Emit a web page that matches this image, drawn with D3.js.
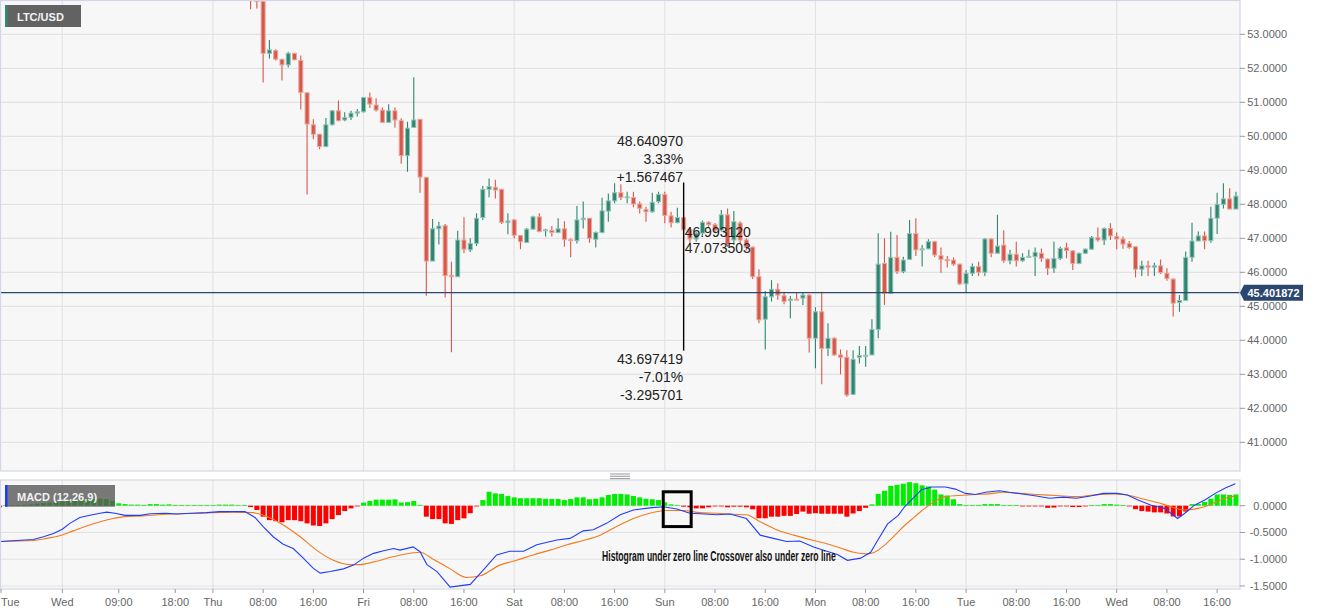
<!DOCTYPE html>
<html><head><meta charset="utf-8">
<script src="https://cdn.jsdelivr.net/npm/d3@7"></script>
<style>
html,body{margin:0;padding:0;background:#fff;}
svg{display:block;font-family:"Liberation Sans",Arial,sans-serif;}
</style></head><body>
<svg id="chart" width="1331" height="615"></svg>
<script>
// ---------------- DATA ----------------
const symbol = "LTC/USD";
const macdTitle = "MACD (12,26,9)";
const baseTime = Date.UTC(2019, 10, 20, 0, 0); // Wed 00:00
const candleFirstHour = 30; // Thu 06:00, hourly candles
const opens = [54.60,54.20,53.97,52.44,52.52,52.26,52.10,52.44,52.23,51.28,50.34,50.06,49.70,50.34,50.75,50.48,50.56,50.68,50.72,51.14,
50.92,50.77,50.41,50.75,50.46,49.43,50.26,50.50,48.79,46.33,47.28,47.37,45.91,45.87,46.95,46.66,46.85,47.61,48.44,48.50,
48.44,47.47,47.54,47.08,46.88,47.27,47.63,47.22,47.23,47.17,47.28,46.96,46.93,47.55,47.59,46.97,47.17,47.80,48.10,48.34,
48.19,48.20,48.01,47.85,47.78,48.08,48.29,47.66,47.46,47.61,47.25,46.98,47.15,47.47,47.40,47.24,47.69,46.95,47.45,46.95,
46.74,45.87,44.62,45.28,45.50,45.31,45.17,45.21,45.24,45.33,44.06,44.84,43.76,44.06,43.57,43.50,42.41,43.50,43.53,43.57,
44.32,46.26,45.38,46.44,46.02,46.38,47.14,46.66,46.69,46.90,46.49,46.38,46.36,46.24,45.66,45.97,46.17,46.00,46.98,46.56,
46.80,46.34,46.53,46.34,46.45,46.46,46.56,46.39,46.12,46.41,46.72,46.63,46.26,46.56,46.68,47.02,46.95,47.29,47.05,46.98,
46.85,46.75,46.09,46.19,46.15,46.19,45.97,45.80,45.11,45.17,46.44,46.92,47.07,46.93,47.59,48.00,48.16,47.86];
const highs = [54.90,54.35,54.00,52.83,52.56,52.29,52.49,52.45,52.38,51.29,50.50,50.07,50.54,50.77,51.05,50.71,50.75,50.80,51.15,51.29,
51.12,50.85,50.94,50.85,50.53,50.43,51.74,50.50,48.80,47.57,47.49,47.42,46.31,47.22,47.62,47.00,47.74,48.54,48.76,48.72,
48.46,47.74,47.56,47.09,47.30,47.66,47.74,47.28,47.36,47.59,47.50,47.00,47.95,48.08,47.60,47.20,48.19,48.32,48.62,48.59,
48.37,48.37,48.08,47.93,48.34,48.37,48.37,47.78,47.90,47.65,47.30,47.20,47.52,47.50,47.45,47.83,47.88,47.80,47.50,47.00,
46.76,46.09,45.45,45.77,45.68,45.43,45.30,45.40,45.40,45.36,44.97,45.43,44.50,44.09,43.73,43.71,43.71,43.83,43.83,44.62,
47.15,47.00,47.19,47.10,46.46,47.54,47.59,46.80,46.97,46.92,46.73,46.48,46.44,46.25,46.07,46.26,46.31,47.00,47.00,47.69,
47.24,46.66,46.90,46.56,46.66,46.73,46.70,46.40,46.90,46.75,46.87,46.65,46.58,46.70,47.07,47.32,47.32,47.44,47.17,47.05,
46.92,46.76,46.34,46.34,46.28,46.38,46.12,45.82,45.33,46.61,47.46,47.20,47.20,47.93,48.34,48.62,48.47,48.37];
const lows = [53.74,53.76,51.58,52.29,52.23,51.64,52.02,52.24,50.79,48.29,49.91,49.62,49.68,50.32,50.44,50.44,50.48,50.58,50.70,50.83,
50.73,50.40,50.40,50.25,49.19,48.96,50.25,48.34,45.31,46.33,46.82,45.26,43.65,45.87,46.56,46.60,46.77,47.54,48.21,48.17,
47.42,47.12,47.00,46.68,46.86,47.25,47.18,47.05,47.05,47.15,46.75,46.44,46.85,47.29,46.87,46.73,47.15,47.49,48.03,48.13,
48.03,47.91,47.73,47.49,47.75,48.03,47.44,47.32,47.44,47.20,46.85,46.90,47.10,47.30,47.15,47.20,46.75,46.80,46.85,46.65,
45.80,44.50,43.73,45.14,45.19,45.06,44.65,45.17,45.04,43.64,43.18,42.71,43.54,43.54,43.00,42.34,42.39,43.32,43.22,43.57,
44.06,45.04,45.36,45.95,45.97,46.38,46.48,46.17,46.68,46.44,45.99,46.14,46.19,45.63,45.41,45.89,45.89,45.89,46.44,46.56,
46.28,46.24,46.17,46.31,46.44,45.89,46.31,45.92,45.99,46.36,46.41,46.07,46.24,46.54,46.66,46.90,46.80,46.95,46.68,46.69,
46.69,45.85,45.89,45.89,45.89,45.95,45.75,44.70,44.84,45.17,46.31,46.92,46.68,46.87,47.13,47.88,47.86,47.86];
const closes = [54.20,53.97,52.44,52.54,52.27,52.10,52.44,52.25,51.29,50.36,50.06,49.70,50.34,50.75,50.46,50.55,50.68,50.72,51.14,50.95,
50.77,50.41,50.75,50.48,49.43,50.24,50.48,48.80,46.33,47.28,47.36,45.90,45.87,46.95,46.68,46.85,47.59,48.44,48.52,48.42,
47.47,47.51,47.09,46.90,47.27,47.63,47.20,47.25,47.17,47.28,46.96,46.93,47.54,47.59,47.00,47.17,47.81,48.10,48.34,48.20,
48.22,48.01,47.88,47.78,48.06,48.29,47.67,47.46,47.61,47.25,46.98,47.15,47.47,47.40,47.24,47.69,46.82,47.49,46.95,46.74,
45.87,44.60,45.28,45.50,45.33,45.14,45.21,45.19,45.33,44.06,44.84,43.76,44.06,43.57,43.50,42.39,43.44,43.55,43.56,44.32,
46.24,45.38,46.44,46.02,46.36,47.14,46.66,46.69,46.90,46.51,46.38,46.34,46.24,45.66,45.97,46.17,46.00,46.98,46.56,46.77,
46.34,46.53,46.34,46.44,46.47,46.59,46.41,46.12,46.41,46.70,46.64,46.26,46.56,46.68,47.02,46.95,47.29,47.07,46.98,46.83,
46.73,46.09,46.19,46.15,46.19,45.99,45.82,45.09,45.17,46.44,46.92,47.07,46.93,47.59,48.00,48.16,47.86,48.24];
const lastPrice = 45.401872;
const priceTicks = [41,42,43,44,45,46,47,48,49,50,51,52,53];
const macdTicks = [0,-0.5,-1,-1.5];

const histFirstHour = -10; // Tue 14:00
const histValues = [-0.03,0.003,0.005,0.007,0.02,0.025,0.04,0.05,0.06,0.07,
0.08,0.09,0.105,0.11,0.12,0.125,0.13,0.125,0.09,0.045,
0.03,0.02,0.02,0.013,0.03,0.03,0.02,0.025,0.013,0.007,
0.007,0.013,0.013,0.013,0.013,0.02,0.02,0.02,0.013,0.007,
-0.025,-0.08,-0.205,-0.27,-0.29,-0.31,-0.27,-0.27,-0.29,-0.33,
-0.37,-0.38,-0.33,-0.25,-0.175,-0.10,-0.05,-0.006,0.057,0.088,
0.113,0.113,0.113,0.119,0.06,0.066,0.088,0.015,-0.205,-0.25,
-0.25,-0.33,-0.34,-0.27,-0.235,-0.14,-0.005,0.105,0.26,0.23,
0.22,0.18,0.156,0.14,0.14,0.14,0.14,0.13,0.125,0.125,
0.105,0.125,0.156,0.156,0.12,0.13,0.156,0.20,0.22,0.22,
0.21,0.18,0.156,0.13,0.12,0.105,0.063,0.025,0.013,-0.018,
-0.03,-0.05,-0.05,-0.03,-0.012,-0.006,-0.03,-0.018,-0.018,-0.03,
-0.068,-0.235,-0.235,-0.205,-0.205,-0.19,-0.19,-0.155,-0.11,-0.15,
-0.14,-0.15,-0.15,-0.15,-0.15,-0.205,-0.145,-0.10,-0.04,0.025,
0.22,0.28,0.37,0.39,0.41,0.44,0.42,0.38,0.36,0.30,
0.21,0.19,0.12,0.03,0.01,0.01,0.005,0.03,0.03,0.03,
0.01,0.005,0.005,-0.005,-0.005,-0.005,-0.01,-0.04,-0.035,-0.01,
-0.01,-0.025,-0.025,-0.01,0.005,0.01,0.03,0.03,0.02,0.005,
-0.01,-0.065,-0.10,-0.11,-0.125,-0.125,-0.145,-0.20,-0.20,-0.11,
0.03,0.03,0.07,0.13,0.21,0.21,0.20,0.21];

const macdHours = [-10,-7.3,-4.6,-3,-1.4,0,1.2,2.8,4.4,6,7.1,8.4,10,12.4,14,16.6,18.2,20.4,23,25.1,29.1,30.7,32,33.6,35.2,36.8,38.4,40,41.1,42.7,44.8,46.4,48,49.6,51.2,52.8,53.8,55.9,57,58.1,59.7,61.8,65,67.1,69.2,71.3,73.5,75.6,78.8,80.9,83,84.6,86.7,88.9,91,93.6,95.8,97.9,100,101.6,104.3,106.4,109,111.2,113.3,115.4,117.5,119.7,121.8,123.5,125.1,127.2,128.8,129.9,131.5,133.2,134.2,135.8,136.9,138.5,140.7,142.3,143.9,145.5,147.1,149.3,150.9,153,155.2,157.3,159.5,161.6,163.8,165.9,168,169.7,171.3,173.5,175.6,176.7,177.7,178.8,180.4,182.1,183.7,185.3,186.9];
const macdValues = [-0.67,-0.65,-0.63,-0.58,-0.52,-0.44,-0.33,-0.22,-0.18,-0.14,-0.12,-0.14,-0.18,-0.18,-0.15,-0.14,-0.155,-0.14,-0.13,-0.11,-0.11,-0.22,-0.39,-0.58,-0.72,-0.80,-0.98,-1.17,-1.26,-1.23,-1.18,-1.11,-0.98,-0.89,-0.84,-0.80,-0.83,-0.77,-0.86,-1.10,-1.23,-1.52,-1.47,-1.2,-0.92,-0.85,-0.85,-0.73,-0.64,-0.61,-0.47,-0.45,-0.33,-0.17,-0.08,-0.04,-0.02,-0.06,-0.14,-0.15,-0.17,-0.155,-0.24,-0.55,-0.61,-0.67,-0.66,-0.77,-0.85,-0.91,-1.02,-0.98,-0.87,-0.65,-0.34,-0.18,-0.02,0.17,0.30,0.35,0.35,0.31,0.23,0.21,0.25,0.28,0.25,0.22,0.18,0.14,0.16,0.14,0.18,0.23,0.23,0.20,0.11,0.01,-0.05,-0.145,-0.24,-0.145,0.01,0.11,0.23,0.33,0.41];
const signalHours = [-10,-4.6,-2.5,-0.4,1.75,3.9,6,8.1,10.25,12.9,16.6,21.9,27.2,30.4,32.6,35.2,37.9,40.5,43.2,45.8,47.4,49.6,52.8,55.9,57,59.1,61.8,64.4,66.6,69.7,72.4,75,77.7,80.4,83,85.7,88.3,91,93.6,96.3,98.9,101.6,104.3,106.9,109,111.2,113.8,116.5,119.7,121.8,124,126.1,128.3,129.4,131,132.6,134.2,135.8,137.4,139,140.7,142.8,145.5,147.6,149.8,152.5,155.2,158.4,161.6,164.3,167.5,169.7,172.4,174.5,176.7,178.8,181,183.1,185.3,186.9];
const signalValues = [-0.67,-0.65,-0.61,-0.56,-0.47,-0.38,-0.30,-0.24,-0.20,-0.19,-0.16,-0.14,-0.12,-0.13,-0.20,-0.36,-0.58,-0.83,-1.02,-1.10,-1.10,-1.05,-0.95,-0.88,-0.87,-1.0,-1.18,-1.34,-1.31,-1.11,-1.02,-0.92,-0.83,-0.73,-0.65,-0.55,-0.39,-0.24,-0.14,-0.09,-0.09,-0.13,-0.14,-0.16,-0.17,-0.30,-0.45,-0.55,-0.65,-0.71,-0.79,-0.87,-0.90,-0.87,-0.74,-0.56,-0.37,-0.21,-0.05,0.08,0.17,0.19,0.21,0.22,0.25,0.23,0.21,0.19,0.17,0.20,0.22,0.20,0.12,0.06,-0.02,-0.08,-0.05,0.03,0.14,0.18];

const xTickHours = [-24,0,9,18,24,32,40,48,56,64,72,80,88,96,104,112,120,128,136,144,152,160,168,176,184];
const xTickLabels = ["Tue","Wed","09:00","18:00","Thu","08:00","16:00","Fri","08:00","16:00","Sat","08:00","16:00","Sun","08:00","16:00","Mon","08:00","16:00","Tue","08:00","16:00","Wed","08:00","16:00"];
const dayHours = [0,24,48,72,96,120,144,168];

// measurement annotation
const measureHour = 99;
const measureHigh = 48.640970, measureLow = 43.697419;
const measureTopText = ["48.640970","3.33%","+1.567467"];
const measureBottomText = ["43.697419","-7.01%","-3.295701"];
const measureMidText = ["46.993120","47.073503"];
const noteText = "Histogram under zero line Crossover also under zero line";

// ---------------- LAYOUT ----------------
const W = 1331, plotR = 1240;
const P = {top: 0.5, bottom: 471};
const M = {top: 480, bottom: 589};
const hourDate = h => new Date(baseTime + h * 3600e3);

const x = d3.scaleUtc().domain([hourDate(0), hourDate(168)]).range([62.3, 1116.7]);
const yP = d3.scaleLinear().domain([41, 53]).range([442.3, 34.3]);
const yM = d3.scaleLinear().domain([-1.5, 0]).range([586, 505.7]);

const svg = d3.select("#chart");
const defs = svg.append("defs");
defs.append("clipPath").attr("id","clipP").append("rect").attr("x",0).attr("y",P.top).attr("width",plotR).attr("height",P.bottom-P.top);
defs.append("clipPath").attr("id","clipM").append("rect").attr("x",0).attr("y",M.top).attr("width",plotR).attr("height",M.bottom-M.top);

const gridC = "#e3e3e3", borderC = "#d2d6e6", axisTxt = "#666";

// backgrounds
svg.append("rect").attr("x",0).attr("y",0).attr("width",W).attr("height",615).attr("fill","#fff");
svg.append("rect").attr("x",0.5).attr("y",P.top).attr("width",plotR-0.5).attr("height",P.bottom-P.top).attr("fill","#f7f7f7");
svg.append("rect").attr("x",0.5).attr("y",M.top).attr("width",plotR-0.5).attr("height",M.bottom-M.top).attr("fill","#f7f7f7");

// price grid
const gP = svg.append("g").attr("clip-path","url(#clipP)");
gP.selectAll("line.h").data(priceTicks).join("line")
  .attr("x1",0).attr("x2",plotR).attr("y1",d=>yP(d)).attr("y2",d=>yP(d))
  .attr("stroke",gridC).attr("stroke-width",1.2);
gP.selectAll("line.v").data(dayHours).join("line")
  .attr("x1",d=>x(hourDate(d))).attr("x2",d=>x(hourDate(d))).attr("y1",P.top).attr("y2",P.bottom)
  .attr("stroke",gridC).attr("stroke-width",1.2);

// macd grid
const gM = svg.append("g").attr("clip-path","url(#clipM)");
gM.selectAll("line.h").data(macdTicks).join("line")
  .attr("x1",0).attr("x2",plotR).attr("y1",d=>yM(d)).attr("y2",d=>yM(d))
  .attr("stroke",gridC).attr("stroke-width",1.2);
gM.selectAll("line.v").data(dayHours).join("line")
  .attr("x1",d=>x(hourDate(d))).attr("x2",d=>x(hourDate(d))).attr("y1",M.top).attr("y2",M.bottom)
  .attr("stroke",gridC).attr("stroke-width",1.2);

// candles
const candles = opens.map((o,i)=>({t:hourDate(candleFirstHour+i),o,h:highs[i],l:lows[i],c:closes[i]}));
const upC = "#2e8570", upS = "#93c4b7", dnC = "#d6584a", dnS = "#eaa69d";
const cg = gP.append("g");
cg.selectAll("line.w").data(candles).join("line")
  .attr("x1",d=>x(d.t)).attr("x2",d=>x(d.t)).attr("y1",d=>yP(d.h)).attr("y2",d=>yP(d.l))
  .attr("stroke",d=>d.c>=d.o?upC:dnC).attr("stroke-width",1.1);
cg.selectAll("rect").data(candles).join("rect")
  .attr("x",d=>x(d.t)-2).attr("width",4)
  .attr("y",d=>yP(Math.max(d.o,d.c)))
  .attr("height",d=>Math.max(1,Math.abs(yP(d.o)-yP(d.c))))
  .attr("fill",d=>d.c>=d.o?upC:dnC)
  .attr("stroke",d=>d.c>=d.o?upS:dnS).attr("stroke-width",1);

// last price line
gP.append("line").attr("x1",0).attr("x2",plotR).attr("y1",yP(lastPrice)).attr("y2",yP(lastPrice))
  .attr("stroke","#2b4770").attr("stroke-width",1.4);

// histogram
const hist = histValues.map((v,i)=>({t:hourDate(histFirstHour+i),v}));
gM.append("g").selectAll("rect").data(hist).join("rect")
  .attr("x",d=>x(d.t)-2.5).attr("width",5)
  .attr("y",d=>d.v>=0 ? Math.min(yM(d.v), yM(0)-0.7) : yM(0))
  .attr("height",d=>Math.max(0.7, Math.abs(yM(d.v)-yM(0))))
  .attr("fill",d=>d.v>=0?"#00ee00":"#ff0000");

// MACD + signal lines
const lineGen = d3.line().x(d=>x(hourDate(d[0]))).y(d=>yM(d[1]));
gM.append("path").datum(signalHours.map((h,i)=>[h,signalValues[i]]))
  .attr("d",lineGen.curve(d3.curveMonotoneX)).attr("fill","none").attr("stroke","#f57a1c").attr("stroke-width",1.1);
gM.append("path").datum(macdHours.map((h,i)=>[h,macdValues[i]]))
  .attr("d",d3.line().x(d=>x(hourDate(d[0]))).y(d=>yM(d[1]))).attr("fill","none").attr("stroke","#1f3cff").attr("stroke-width",1.1);

// panel borders
[[P.top,P.bottom],[M.top,M.bottom]].forEach(([t,b])=>{
  svg.append("rect").attr("x",0.5).attr("y",t).attr("width",plotR-0.5).attr("height",b-t)
    .attr("fill","none").attr("stroke",borderC).attr("stroke-width",1.2);
});

// right axes
const rAx = svg.append("g");
rAx.selectAll("line.p").data(priceTicks).join("line")
  .attr("x1",plotR).attr("x2",plotR+5).attr("y1",d=>yP(d)).attr("y2",d=>yP(d)).attr("stroke","#999");
rAx.selectAll("text.p").data(priceTicks).join("text")
  .attr("x",1287).attr("y",d=>yP(d)+4).attr("text-anchor","end")
  .attr("font-size",11).attr("fill",axisTxt).text(d=>d3.format(".4f")(d));
rAx.selectAll("line.m").data(macdTicks).join("line")
  .attr("x1",plotR).attr("x2",plotR+5).attr("y1",d=>yM(d)).attr("y2",d=>yM(d)).attr("stroke","#999");
rAx.selectAll("text.m").data(macdTicks).join("text")
  .attr("x",1287).attr("y",d=>yM(d)+4).attr("text-anchor","end")
  .attr("font-size",11).attr("fill",axisTxt).text(d=>d3.format(".4f")(d).replace("−","-"));

// last price label
const lpY = yP(lastPrice);
svg.append("path")
  .attr("d",`M${plotR},${lpY} L${plotR+4},${lpY-7.8} L1303,${lpY-7.8} L1303,${lpY+8} L${plotR+4},${lpY+8} Z`)
  .attr("fill","#2b4770");
svg.append("text").attr("x",1273.5).attr("y",lpY+4.2).attr("text-anchor","middle")
  .attr("font-size",11).attr("font-weight","bold").attr("fill","#fff").text(d3.format(".6f")(lastPrice));

// bottom time axis
const xa = svg.append("g");
const xt = xTickHours.map((h,i)=>({h,label:xTickLabels[i],px:x(hourDate(h))}));
xa.selectAll("line").data(xt).join("line")
  .attr("x1",d=>Math.max(d.px,1)).attr("x2",d=>Math.max(d.px,1)).attr("y1",M.bottom).attr("y2",M.bottom+4)
  .attr("stroke","#999");
xa.selectAll("text").data(xt).join("text")
  .attr("x",d=>d.px<10?1:d.px).attr("y",606)
  .attr("text-anchor",d=>d.px<10?"start":"middle")
  .attr("font-size",11).attr("fill",axisTxt).text(d=>d.label);

// splitter grip
svg.selectAll("line.grip").data([474,476.3,478.6]).join("line")
  .attr("x1",610).attr("x2",630).attr("y1",d=>d).attr("y2",d=>d).attr("stroke","#8a8a8a").attr("stroke-width",0.9);

// symbol label
svg.append("rect").attr("x",5).attr("y",5).attr("width",76).attr("height",22).attr("fill","#626262");
svg.append("rect").attr("x",5).attr("y",5).attr("width",2.5).attr("height",22).attr("fill","#2e8b73");
svg.append("text").attr("x",17).attr("y",20.6).attr("font-size",11).attr("font-weight","bold").attr("fill","#f2f2f2").text(symbol);

// MACD label
svg.append("rect").attr("x",5).attr("y",485).attr("width",110).attr("height",21.7).attr("fill","#555").attr("fill-opacity",0.78);
svg.append("rect").attr("x",5).attr("y",485).attr("width",2.5).attr("height",21.7).attr("fill","#1a3cff");
svg.append("text").attr("x",17).attr("y",500.6).attr("font-size",11).attr("font-weight","bold").attr("fill","#f2f2f2").text(macdTitle);

// measurement tool
const mx = x(hourDate(measureHour));
svg.append("line").attr("x1",mx).attr("x2",mx).attr("y1",yP(measureHigh)).attr("y2",yP(measureLow))
  .attr("stroke","#000").attr("stroke-width",1.4);
const mt = svg.append("g").attr("font-size",14).attr("fill","#222");
mt.selectAll("text.t").data(measureTopText).join("text")
  .attr("x",mx-0.5).attr("y",(d,i)=>yP(measureHigh)-37+i*18).attr("text-anchor","end").text(d=>d);
mt.selectAll("text.b").data(measureBottomText).join("text")
  .attr("x",mx-0.5).attr("y",(d,i)=>yP(measureLow)+13+i*18).attr("text-anchor","end").text(d=>d);
mt.selectAll("text.m").data(measureMidText).join("text")
  .attr("x",mx+1).attr("y",(d,i)=>yP(+measureMidText[0])-1.8+i*16).attr("text-anchor","start").text(d=>d);

// crossover box + note
svg.append("rect").attr("x",x(hourDate(95.75))).attr("y",yM(0.26))
  .attr("width",x(hourDate(100.2))-x(hourDate(95.75))).attr("height",yM(-0.39)-yM(0.26))
  .attr("fill","none").attr("stroke","#000").attr("stroke-width",3);
svg.append("text").attr("x",x(hourDate(86.0))).attr("y",561)
  .attr("font-size",14).attr("font-weight","bold").attr("fill","#111")
  .attr("textLength",233.7).attr("lengthAdjust","spacingAndGlyphs").text(noteText);
</script>
</body></html>
